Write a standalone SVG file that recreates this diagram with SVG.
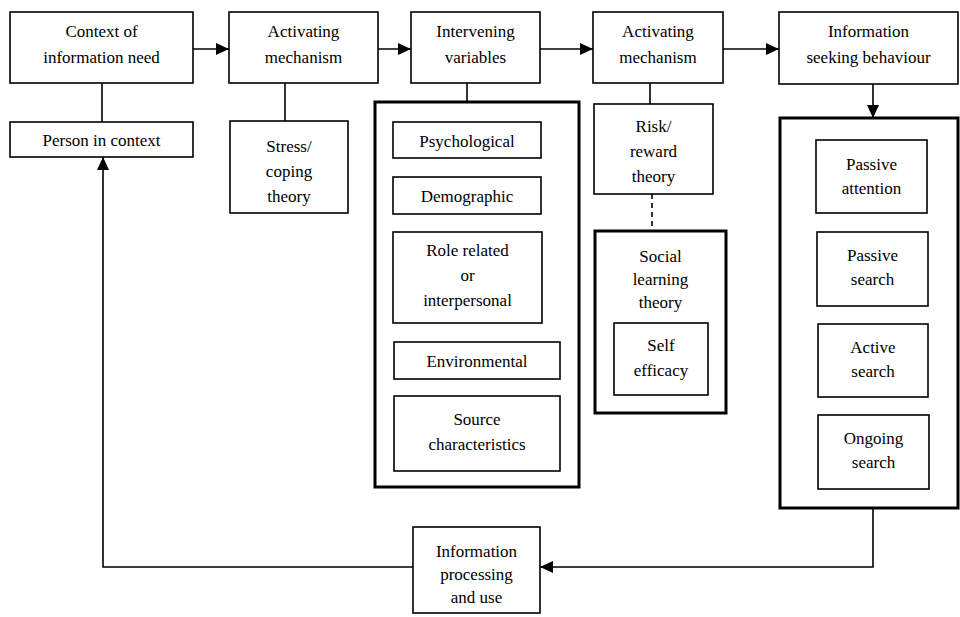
<svg xmlns="http://www.w3.org/2000/svg" width="960" height="617" viewBox="0 0 960 617">
<defs>
<style>
.b{fill:#fff;stroke:#000;stroke-width:1.6}
.c{fill:none;stroke:#000;stroke-width:3}
.t{font-family:"Liberation Serif","Times New Roman",serif;font-size:17px;fill:#000;text-anchor:middle}
.l{fill:none;stroke:#000;stroke-width:1.6}
.d{fill:none;stroke:#000;stroke-width:1.6;stroke-dasharray:5,4}
</style>
<marker id="ah" markerUnits="userSpaceOnUse" markerWidth="14" markerHeight="12" refX="13" refY="6" orient="auto">
<path d="M0,0 L13,6 L0,12 Z" fill="#000"/>
</marker>
</defs>
<rect width="960" height="617" fill="#fff"/>
<g id="connectors">
<line class="l" x1="193" y1="49" x2="229" y2="49" marker-end="url(#ah)"/>
<line class="l" x1="378" y1="49" x2="411" y2="49" marker-end="url(#ah)"/>
<line class="l" x1="540" y1="49" x2="593" y2="49" marker-end="url(#ah)"/>
<line class="l" x1="723" y1="49" x2="779" y2="49" marker-end="url(#ah)"/>
<line class="l" x1="102" y1="83" x2="102" y2="122"/>
<line class="l" x1="285" y1="83" x2="285" y2="121"/>
<line class="l" x1="467" y1="83" x2="467" y2="102"/>
<line class="l" x1="650" y1="83" x2="650" y2="104"/>
<line class="d" x1="652" y1="194" x2="652" y2="231"/>
<line class="l" x1="873" y1="84" x2="873" y2="118" marker-end="url(#ah)"/>
<polyline class="l" points="873,508 873,567 540,567" marker-end="url(#ah)"/>
<polyline class="l" points="413,567 103,567 103,157" marker-end="url(#ah)"/>
</g>
<g id="context"><rect class="b" x="10" y="12" width="183" height="71"/><text class="t" x="101.5" y="37">Context of</text><text class="t" x="101.5" y="63">information need</text></g>
<g id="activating1"><rect class="b" x="229" y="12" width="149" height="71"/><text class="t" x="303.5" y="37">Activating</text><text class="t" x="303.5" y="63">mechanism</text></g>
<g id="intervening"><rect class="b" x="411" y="12" width="129" height="71"/><text class="t" x="475.5" y="37">Intervening</text><text class="t" x="475.5" y="63">variables</text></g>
<g id="activating2"><rect class="b" x="593" y="12" width="130" height="71"/><text class="t" x="658" y="37">Activating</text><text class="t" x="658" y="63">mechanism</text></g>
<g id="seeking"><rect class="b" x="779" y="12" width="179" height="72"/><text class="t" x="868.5" y="37">Information</text><text class="t" x="868.5" y="63">seeking behaviour</text></g>
<g id="person"><rect class="b" x="10" y="122" width="183" height="35"/><text class="t" x="101.5" y="146">Person in context</text></g>
<g id="stress"><rect class="b" x="230" y="121" width="118" height="92"/><text class="t" x="289" y="152">Stress/</text><text class="t" x="289" y="177">coping</text><text class="t" x="289" y="202">theory</text></g>
<g id="variables">
<rect class="c" x="375" y="102" width="204" height="385"/>
<g id="psychological"><rect class="b" x="393" y="122" width="148" height="36"/><text class="t" x="467" y="147">Psychological</text></g>
<g id="demographic"><rect class="b" x="393" y="177" width="148" height="37"/><text class="t" x="467" y="202">Demographic</text></g>
<g id="role"><rect class="b" x="393" y="232" width="149" height="91"/><text class="t" x="467.5" y="256">Role related</text><text class="t" x="467.5" y="281">or</text><text class="t" x="467.5" y="306">interpersonal</text></g>
<g id="environmental"><rect class="b" x="394" y="342" width="166" height="37"/><text class="t" x="477" y="367">Environmental</text></g>
<g id="source"><rect class="b" x="394" y="396" width="166" height="75"/><text class="t" x="477" y="425">Source</text><text class="t" x="477" y="450">characteristics</text></g>
</g>
<g id="risk"><rect class="b" x="594" y="104" width="119" height="90"/><text class="t" x="653.5" y="132">Risk/</text><text class="t" x="653.5" y="157">reward</text><text class="t" x="653.5" y="182">theory</text></g>
<g id="social">
<rect class="c" x="595" y="231" width="131" height="182"/>
<text class="t" x="660.5" y="262">Social</text><text class="t" x="660.5" y="285">learning</text><text class="t" x="660.5" y="308">theory</text>
<g id="selfefficacy"><rect class="b" x="614" y="323" width="94" height="72"/><text class="t" x="661" y="351">Self</text><text class="t" x="661" y="376">efficacy</text></g>
</g>
<g id="behaviours">
<rect class="c" x="780" y="118" width="178" height="390"/>
<g id="passiveattention"><rect class="b" x="816" y="140" width="111" height="73"/><text class="t" x="871.5" y="170">Passive</text><text class="t" x="871.5" y="194">attention</text></g>
<g id="passivesearch"><rect class="b" x="817" y="232" width="111" height="74"/><text class="t" x="872.5" y="261">Passive</text><text class="t" x="872.5" y="285">search</text></g>
<g id="activesearch"><rect class="b" x="818" y="324" width="110" height="73"/><text class="t" x="873" y="353">Active</text><text class="t" x="873" y="377">search</text></g>
<g id="ongoingsearch"><rect class="b" x="818" y="415" width="111" height="74"/><text class="t" x="873.5" y="444">Ongoing</text><text class="t" x="873.5" y="468">search</text></g>
</g>
<g id="processing"><rect class="b" x="413" y="527" width="127" height="86"/><text class="t" x="476.5" y="557">Information</text><text class="t" x="476.5" y="580">processing</text><text class="t" x="476.5" y="603">and use</text></g>
</svg>
